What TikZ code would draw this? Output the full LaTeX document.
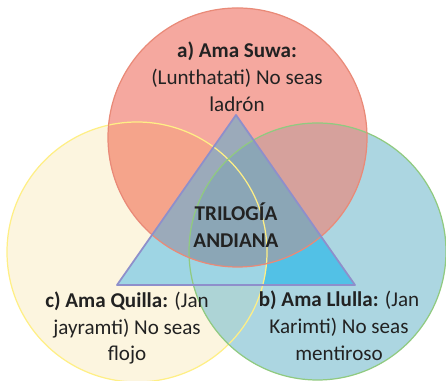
\documentclass[tikz,border=0pt]{standalone}
\usepackage{fontspec}
\setmainfont{Carlito}

\definecolor{amarillo}{HTML}{FCF5DF}
\definecolor{azul}{HTML}{ACD6E1}
\definecolor{rojo}{HTML}{F5A89F}
\definecolor{lente}{HTML}{ADD4D6}
\definecolor{rojoamarillo}{HTML}{F5A48B}
\definecolor{rojoazul}{HTML}{D6A19C}
\definecolor{triazul}{HTML}{52C1E6}
\definecolor{triclaro}{HTML}{9ED5E4}
\definecolor{trirojo}{HTML}{9BAABA}
\definecolor{trioscuro}{HTML}{8BA6B6}
\definecolor{bordeamarillo}{HTML}{FFEF85}
\definecolor{bordeverde}{HTML}{90CA80}
\definecolor{borderojo}{HTML}{E98A78}
\definecolor{bordemorado}{HTML}{8E8FCB}
\definecolor{textogris}{HTML}{222222}

\def\circamarillo{(137,129) circle (130)}
\def\circazul{(317.5,129.5) circle (128.5)}
\def\circrojo{(237.5,243.5) circle (129.5)}
\def\triangulo{(236,266) -- (117,96) -- (355,96) -- cycle}

\begin{document}
\begin{tikzpicture}[x=0.02cm,y=0.02cm,
    texto/.style={align=center,text=textogris,font=\fontsize{12}{15.3}\selectfont}]

    \useasboundingbox (0,0) rectangle (446,381);

    % circulos
    \fill[amarillo] \circamarillo;
    \fill[azul] \circazul;
    \begin{scope}
        \clip \circamarillo;
        \fill[lente] \circazul;
    \end{scope}
    \fill[rojo] \circrojo;
    \begin{scope}
        \clip \circrojo;
        \fill[rojoamarillo] \circamarillo;
        \fill[rojoazul] \circazul;
    \end{scope}

    % triangulo
    \fill[triazul] \triangulo;
    \begin{scope}
        \clip \triangulo;
        \begin{scope}
            \clip \circamarillo;
            \fill[triclaro] \triangulo;
        \end{scope}
        \clip \circrojo;
        \fill[trirojo] \triangulo;
        \clip \circazul;
        \fill[trioscuro] \triangulo;
    \end{scope}

    % bordes
    \draw[bordeamarillo,line width=0.7pt] \circamarillo;
    \draw[bordeverde,line width=0.7pt] \circazul;
    \draw[borderojo,line width=0.7pt] \circrojo;
    \draw[bordemorado,line width=1pt,line join=round] \triangulo;

    % textos
    \node[texto] (suwa) at (237,304)
        {\textbf{a) Ama Suwa:}\\(Lunthatati) No seas\\ladrón};
    \node[texto] (centro) at (236,155.5) {\textbf{TRILOGÍA}\\\textbf{ANDIANA}};
    \node[texto] (quilla) at (127,53)
        {\textbf{c) Ama Quilla:} (Jan\\jayramti) No seas\\flojo};
    \node[texto] (llulla) at (339,55)
        {\textbf{b) Ama Llulla:} (Jan\\Karimti) No seas\\mentiroso};

\end{tikzpicture}
\end{document}
